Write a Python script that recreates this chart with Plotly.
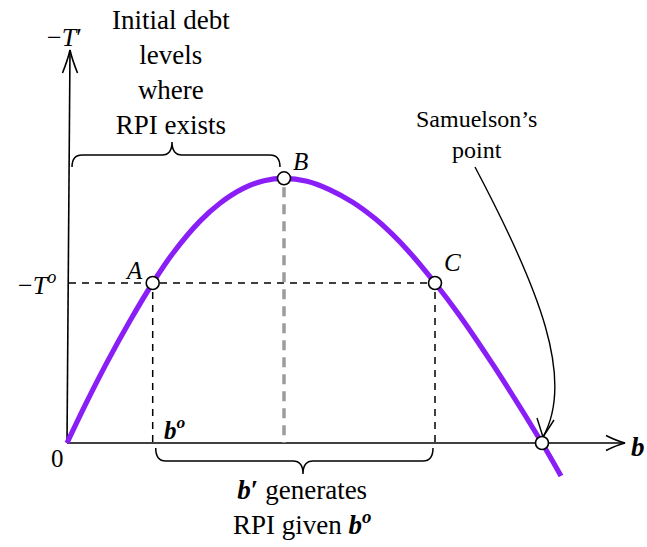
import plotly.graph_objects as go

# Laffer-type curve: primary surplus (-T') against debt level b
b_curve = [0.0, 0.20, 0.40, 0.63, 0.857, 1.063, 1.33, 1.53, 1.763, 1.97, 2.17,
           2.40, 2.63, 2.863, 3.08, 3.247, 3.413, 3.68, 3.913, 4.263, 4.75, 4.94]
t_curve = [0.0, 0.416, 0.806, 1.222, 1.60, 1.903, 2.219, 2.398, 2.546, 2.623, 2.647,
           2.618, 2.532, 2.404, 2.244, 2.094, 1.921, 1.60, 1.293, 0.778, 0.0, -0.33]

# Marked points on the curve: A, B, C and Samuelson's point
point_b = [0.857, 2.17, 3.68, 4.75]
point_t = [1.60, 2.647, 1.60, 0.0]

T_o = 1.60          # initial surplus level -T^o
x_end = 5.58        # tip of the b axis
y_end = 3.93        # tip of the -T' axis

SERIF = "Liberation Serif, DejaVu Serif, serif"
PURPLE = "#8a1ef6"
INK = "black"

fig = go.Figure()

bA, bB, bC, bS = point_b
tA, tB, tC, tS = point_t

# dashed guide lines
fig.add_trace(go.Scatter(x=[0.02, bC], y=[T_o, T_o], mode="lines",
                         line=dict(color=INK, width=1.5, dash="7px,6px"),
                         hoverinfo="skip"))
for bx in (bA, bC):
    fig.add_trace(go.Scatter(x=[bx, bx], y=[T_o - 0.09, 0], mode="lines",
                             line=dict(color=INK, width=1.5, dash="7px,6px"),
                             hoverinfo="skip"))
fig.add_trace(go.Scatter(x=[bB, bB], y=[tB - 0.09, 0], mode="lines",
                         line=dict(color="#9c9c9c", width=3.5, dash="10px,7px"),
                         hoverinfo="skip"))

# the curve
fig.add_trace(go.Scatter(x=b_curve, y=t_curve, mode="lines",
                         line=dict(color=PURPLE, width=5.2, shape="spline", smoothing=1.0),
                         hoverinfo="skip"))

# open circles at A, B, C and Samuelson's point
fig.add_trace(go.Scatter(x=point_b, y=point_t, mode="markers",
                         marker=dict(size=13, color="white",
                                     line=dict(color=INK, width=1.6)),
                         hoverinfo="skip"))

shapes = []
# axes
shapes.append(dict(type="line", x0=0, y0=0, x1=x_end, y1=0,
                   line=dict(color=INK, width=1.6), layer="below"))
shapes.append(dict(type="line", x0=0, y0=0, x1=0.03, y1=y_end,
                   line=dict(color=INK, width=1.6), layer="below"))
# arrow heads
shapes.append(dict(type="path",
                   path=f"M {x_end-0.19},0.075 Q {x_end-0.08},0.02 {x_end},0 "
                        f"Q {x_end-0.08},-0.02 {x_end-0.19},-0.075",
                   line=dict(color=INK, width=1.6), layer="below"))
shapes.append(dict(type="path",
                   path=f"M -0.045,{y_end-0.23} Q 0.01,{y_end-0.09} 0.03,{y_end} "
                        f"Q 0.05,{y_end-0.09} 0.105,{y_end-0.23}",
                   line=dict(color=INK, width=1.6), layer="below"))


def brace(xl, xr, xm, y_base, y_bar, y_tip):
    """Curly brace path between xl and xr with its point at xm."""
    return (f"M {xl},{y_base} Q {xl},{y_bar} {xl+0.1},{y_bar} L {xm-0.1},{y_bar} "
            f"Q {xm},{y_bar} {xm},{y_tip} Q {xm},{y_bar} {xm+0.1},{y_bar} "
            f"L {xr-0.1},{y_bar} Q {xr},{y_bar} {xr},{y_base}")


# brace over the initial debt levels where RPI exists
shapes.append(dict(type="path", path=brace(0.05, bB - 0.04, 1.05, 2.76, 2.88, 3.01),
                   line=dict(color=INK, width=1.5), layer="below"))
# brace under the b' range
shapes.append(dict(type="path", path=brace(bA + 0.03, bC - 0.02, 2.36, -0.05, -0.18, -0.31),
                   line=dict(color=INK, width=1.5), layer="below"))

# curved pointer to Samuelson's point
shapes.append(dict(type="path",
                   path=f"M 4.08,2.76 C 4.73,1.53 5.08,0.63 {bS+0.01},{tS+0.06}",
                   line=dict(color=INK, width=1.4), layer="below"))
shapes.append(dict(type="path",
                   path=f"M 4.70,0.25 L {bS+0.01},{tS+0.06} L 4.87,0.23",
                   line=dict(color=INK, width=1.4), layer="below"))


def txt(x, y, s, size=24):
    return dict(x=x, y=y, text=s, showarrow=False, xref="x", yref="y",
                xanchor="center", yanchor="middle",
                font=dict(family=SERIF, size=size, color=INK))


annotations = [
    txt(-0.03, 4.06, "−<i>T</i>′", 26),
    txt(1.04, 3.71, "Initial debt<br>levels<br>where<br>RPI exists", 27),
    txt(0.67, 1.73, "<i>A</i>", 25),
    txt(2.33, 2.82, "<i>B</i>", 25),
    txt(3.85, 1.81, "<i>C</i>", 25),
    txt(-0.30, 1.60, "−<i>T</i><sup><i>o</i></sup>", 26),
    txt(-0.10, -0.15, "0", 25),
    txt(1.08, 0.15, "<b><i>b</i></b><sup><b><i>o</i></b></sup>", 25),
    txt(5.71, -0.04, "<b><i>b</i></b>", 27),
    txt(4.09, 3.09, "Samuelson’s<br>point", 24),
    txt(2.35, -0.64, "<b><i>b</i>′</b> generates<br>RPI given <b><i>b</i></b><sup><b><i>o</i></b></sup>", 27),
]

fig.update_layout(
    width=647, height=547,
    margin=dict(l=0, r=0, t=0, b=0),
    paper_bgcolor="white", plot_bgcolor="white",
    showlegend=False,
    xaxis=dict(range=[-0.67, 5.80], visible=False, fixedrange=True),
    yaxis=dict(range=[-1.04, 4.43], visible=False, fixedrange=True),
    shapes=shapes,
    annotations=annotations,
)

fig.write_html("out.html")
